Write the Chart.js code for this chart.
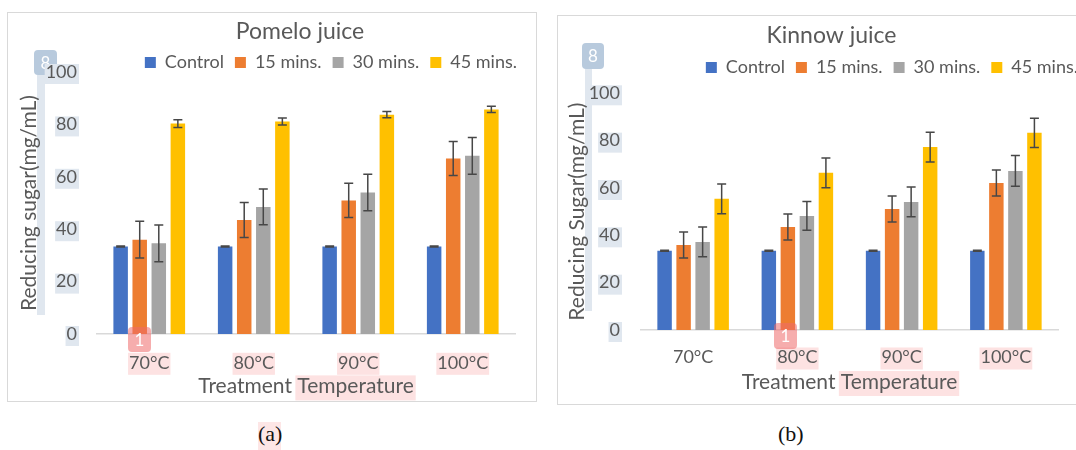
<!DOCTYPE html>
<html><head><meta charset="utf-8">
<script src="https://cdn.jsdelivr.net/npm/chart.js@4.4.1/dist/chart.umd.min.js"></script>
<style>
html,body{margin:0;padding:0;background:#fff;width:1076px;height:450px;overflow:hidden;position:relative}
.panel{position:absolute;border:1px solid #d9d9d9;box-sizing:border-box;background:#fff;overflow:hidden}
#pa{left:7px;top:12px;width:530px;height:390px}
#pb{left:557px;top:15px;width:530px;height:390px}
canvas{display:block}
.cap{position:absolute;font-family:"Liberation Serif","DejaVu Serif",serif;font-size:22px;color:#111;line-height:26px}
.hl{position:absolute;background:rgba(250,200,200,0.45)}
</style></head><body>
<div class="panel" id="pa"><canvas id="ca" width="528" height="388"></canvas></div>
<div class="panel" id="pb"><canvas id="cb" width="528" height="388"></canvas></div>
<div class="hl" style="left:258px;top:422px;width:23px;height:28px"></div>
<div class="cap" style="left:258px;top:421px">(a)</div>
<div class="cap" style="left:778px;top:421px">(b)</div>
<script>
// ---------- data ----------
const categories = ['70°C', '80°C', '90°C', '100°C'];
const seriesNames = ['Control', '15 mins.', '30 mins.', '45 mins.'];
const seriesColors = ['#4472C4', '#ED7D31', '#A5A5A5', '#FFC000'];
const yTickValues = [0, 20, 40, 60, 80, 100];

// Pomelo juice (a)
const pomeloControl = [33.4, 33.4, 33.4, 33.4];
const pomelo15 = [36.0, 43.5, 51.0, 67.0];
const pomelo30 = [34.6, 48.5, 54.0, 68.0];
const pomelo45 = [80.3, 81.1, 83.7, 85.7];
const pomeloErrControl = [0.2, 0.2, 0.2, 0.2];
const pomeloErr15 = [7.0, 6.7, 6.5, 6.5];
const pomeloErr30 = [7.0, 6.8, 7.0, 7.0];
const pomeloErr45 = [1.5, 1.3, 1.2, 1.2];

// Kinnow juice (b)
const kinnowControl = [33.5, 33.5, 33.5, 33.5];
const kinnow15 = [35.9, 43.5, 51.1, 62.1];
const kinnow30 = [37.2, 48.2, 54.1, 67.2];
const kinnow45 = [55.4, 66.4, 77.3, 83.3];
const kinnowErrControl = [0.2, 0.2, 0.2, 0.2];
const kinnowErr15 = [5.5, 5.5, 5.5, 5.5];
const kinnowErr30 = [6.3, 6.1, 6.3, 6.5];
const kinnowErr45 = [6.3, 6.3, 6.3, 6.2];

// ---------- plugins ----------
const FONT = "Lato, 'Open Sans', sans-serif";
const TEXT = '#595959';

const nudgePlugin = {
  id: 'nudge',
  afterLayout(chart, args, opts) {
    const mv = (b, o) => { if (!b || !o) return; b.left += o.dx || 0; b.right += o.dx || 0; b.top += o.dy || 0; b.bottom += o.dy || 0; };
    mv(chart.titleBlock, opts.title);
    mv(chart.legend, opts.legend);
  }
};

const errorBarPlugin = {
  id: 'errorBars',
  afterDatasetsDraw(chart, args, opts) {
    const ctx = chart.ctx, ys = chart.scales.y;
    ctx.save();
    ctx.strokeStyle = opts.color; ctx.lineWidth = opts.width;
    chart.data.datasets.forEach((ds, i) => {
      const meta = chart.getDatasetMeta(i);
      meta.data.forEach((bar, j) => {
        const v = ds.data[j], e = ds.errors[j];
        const yt = ys.getPixelForValue(v + e), yb = ys.getPixelForValue(v - e);
        const x = bar.x, c = opts.cap;
        ctx.beginPath();
        ctx.moveTo(x, yt); ctx.lineTo(x, yb);
        ctx.moveTo(x - c, yt); ctx.lineTo(x + c, yt);
        ctx.moveTo(x - c, yb); ctx.lineTo(x + c, yb);
        ctx.stroke();
      });
    });
    ctx.restore();
  }
};

function rrect(ctx, x, y, w, h, r) {
  ctx.beginPath();
  ctx.moveTo(x + r, y); ctx.lineTo(x + w - r, y); ctx.quadraticCurveTo(x + w, y, x + w, y + r);
  ctx.lineTo(x + w, y + h - r); ctx.quadraticCurveTo(x + w, y + h, x + w - r, y + h);
  ctx.lineTo(x + r, y + h); ctx.quadraticCurveTo(x, y + h, x, y + h - r);
  ctx.lineTo(x, y + r); ctx.quadraticCurveTo(x, y, x + r, y); ctx.closePath();
}
function badge(ctx, b, fill, label) {
  ctx.save();
  ctx.fillStyle = fill; rrect(ctx, b[0], b[1], b[2], b[3], 4); ctx.fill();
  ctx.fillStyle = '#ffffff'; ctx.font = '17px ' + FONT; ctx.textAlign = 'center'; ctx.textBaseline = 'middle';
  ctx.fillText(label, b[0] + b[2] / 2, b[1] + b[3] / 2 + 1);
  ctx.restore();
}

const markPlugin = {
  id: 'marks',
  beforeDraw(chart, args, opts) {
    const ctx = chart.ctx, xs = chart.scales.x, ys = chart.scales.y;
    ctx.save();
    const s = opts.strip;
    ctx.fillStyle = 'rgb(224,231,239)';
    ctx.fillRect(s[0], s[1], s[2], s[3]);
    badge(ctx, opts.badge8, 'rgba(140,170,200,0.62)', '8');
    ctx.font = '18px ' + FONT;
    ctx.fillStyle = 'rgb(224,231,239)';
    yTickValues.forEach(v => {
      const w = ctx.measureText(String(v)).width;
      const right = ys.right - ys.options.ticks.padding;
      const cy = ys.getPixelForValue(v);
      ctx.fillRect(right - w - 1, cy - 8, w + 3, 20);
    });
    ctx.fillStyle = 'rgb(253,226,226)';
    const xcy = xs.top + xs.options.ticks.padding + 10.8;
    opts.xHighlight.forEach(i => {
      const w = ctx.measureText(categories[i]).width;
      const cx = xs.getPixelForTick(i);
      ctx.fillRect(cx - w / 2 - 1, xcy - 10, w + 2, 22);
    });
    const tf = xs.options.title.font.size;
    ctx.font = tf + 'px ' + FONT;
    const full = ctx.measureText(xs.options.title.text).width;
    const pre = ctx.measureText('Treatment ').width;
    const word = ctx.measureText('Temperature').width;
    const tcx = (xs.left + xs.right) / 2;
    const tcy = xs.bottom - xs.options.title.padding.bottom - tf * 1.2 / 2;
    ctx.fillRect(tcx - full / 2 + pre - 2, tcy - 11, word + 4, 25);
    ctx.restore();
  },
  afterDatasetsDraw(chart, args, opts) {
    badge(chart.ctx, opts.badge1, 'rgba(238,105,105,0.55)', '1');
  }
};

function makeChart(id, title, yTitle, vals, errs, L) {
  const datasets = seriesNames.map((n, i) => ({
    label: n, data: vals[i], errors: errs[i],
    backgroundColor: seriesColors[i], borderWidth: 0,
    categoryPercentage: 0.73, barPercentage: 0.76
  }));
  return new Chart(document.getElementById(id), {
    type: 'bar',
    data: { labels: categories, datasets },
    plugins: [nudgePlugin, errorBarPlugin, markPlugin],
    options: {
      responsive: false, animation: false,
      layout: { padding: { top: L.padTop, left: 0, right: L.padRight, bottom: 0 } },
      plugins: {
        tooltip: { enabled: false },
        title: { display: true, text: title, color: TEXT, fullSize: true,
          font: { family: FONT, size: 23, weight: 'normal', lineHeight: 0.87 }, padding: { top: 0, bottom: 0 } },
        legend: { display: true, position: 'top', align: 'end',
          labels: { color: TEXT, boxWidth: 11, boxHeight: 11, padding: 11, font: { family: FONT, size: 18 } } },
        nudge: { title: { dx: L.titleDx, dy: L.titleDy }, legend: { dx: L.legendDx, dy: L.legendDy } },
        errorBars: { color: '#474747', width: 1.5, cap: 4.5 },
        marks: { strip: L.strip, badge8: L.badge8, badge1: L.badge1, xHighlight: L.xHighlight }
      },
      scales: {
        x: {
          grid: { display: false, drawTicks: false },
          border: { display: true, color: '#d9d9d9', width: 1.5 },
          ticks: { color: TEXT, padding: L.xTickPad, font: { family: FONT, size: 18 } },
          title: { display: true, text: 'Treatment Temperature', color: TEXT,
            font: { family: FONT, size: 21 }, padding: { top: 0, bottom: L.xTitlePad } },
          afterFit: s => { s.height = L.xHeight; }
        },
        y: {
          min: 0, max: 100,
          grid: { display: false, drawTicks: false },
          border: { display: false },
          afterBuildTicks: s => { s.ticks = yTickValues.map(v => ({ value: v })); },
          ticks: { color: TEXT, padding: L.yTickPad, font: { family: FONT, size: 18 } },
          title: { display: true, text: yTitle, color: TEXT,
            font: { family: FONT, size: 21 }, padding: { top: L.yTitlePad, bottom: 0 } },
          afterFit: s => { s.width = L.yWidth; }
        },
        yr: {
          position: 'right', display: true,
          grid: { display: false, drawTicks: false }, border: { display: false },
          ticks: { display: false },
          afterFit: s => { s.width = L.rightGap; }
        }
      }
    }
  });
}

makeChart('ca', 'Pomelo juice', 'Reducing sugar(mg/mL)',
  [pomeloControl, pomelo15, pomelo30, pomelo45],
  [pomeloErrControl, pomeloErr15, pomeloErr30, pomeloErr45],
  { padTop: 0, padRight: 8, titleDx: 32, titleDy: 9, legendDx: 0, legendDy: 9.5,
    xTickPad: 18, xTitlePad: 2, xHeight: 67, yTickPad: 20, yTitlePad: 8.4, yWidth: 89, rightGap: 13,
    strip: [29, 62, 8, 240], badge8: [26, 37, 23, 25], badge1: [120, 314, 23, 25], xHighlight: [0, 1, 2, 3] });

makeChart('cb', 'Kinnow juice', 'Reducing Sugar(mg/mL)',
  [kinnowControl, kinnow15, kinnow30, kinnow45],
  [kinnowErrControl, kinnowErr15, kinnowErr30, kinnowErr45],
  { padTop: 18.3, padRight: 1, titleDx: 10, titleDy: -8.3, legendDx: 4, legendDy: -6.8,
    xTickPad: 16.7, xTitlePad: 9.4, xHeight: 74, yTickPad: 21, yTitlePad: 6.4, yWidth: 83, rightGap: 27,
    strip: [27, 53, 7, 242], badge8: [24, 27, 22, 26], badge1: [216, 307, 23, 26], xHighlight: [1, 2, 3] });
</script>
</body></html>
